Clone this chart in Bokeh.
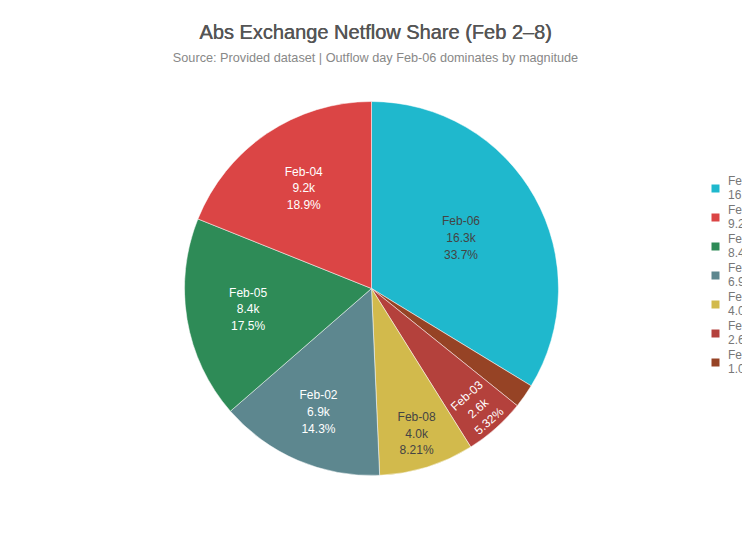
import math
from bokeh.plotting import figure
from bokeh.models import ColumnDataSource, Range1d, Label, Legend, LegendItem
from bokeh.core.properties import value
from bokeh.embed import file_html
from bokeh.resources import INLINE

# ---- data (clockwise from 12 o'clock) ----
days = ["Feb-06", "Feb-07", "Feb-03", "Feb-08", "Feb-02", "Feb-05", "Feb-04"]
abs_netflow = [16300, 998, 2572, 3970, 6915, 8440, 9155]
colors = ["#1FB8CD", "#964325", "#B4413C", "#D2BA4C", "#5D878F", "#2E8B57", "#DB4545"]
legend_order = ["Feb-06", "Feb-04", "Feb-05", "Feb-02", "Feb-08", "Feb-03", "Feb-07"]

title_text = "Abs Exchange Netflow Share (Feb 2\u20138)"
subtitle_text = "Source: Provided dataset | Outflow day Feb-06 dominates by magnitude"

W, H = 742, 520
CX, CY, R = 371, 232, 187
FONT = "Liberation Sans"

total = sum(abs_netflow)
shares = [v / total for v in abs_netflow]
starts, ends, mids = [], [], []
cum = 0.0
for s in shares:
    a0 = math.pi / 2 - 2 * math.pi * cum
    cum += s
    a1 = math.pi / 2 - 2 * math.pi * cum
    starts.append(a0)
    ends.append(a1)
    mids.append((a0 + a1) / 2)

def lum(h):
    r, g, b = int(h[1:3], 16), int(h[3:5], 16), int(h[5:7], 16)
    return 0.299 * r + 0.587 * g + 0.114 * b

lx, ly, ltxt, lcol, lang = [], [], [], [], []
for d, v, s, m, c in zip(days, abs_netflow, shares, mids, colors):
    if s < 0.03:
        continue
    half = math.pi * s
    centroid = 2 * math.sin(half) / (3 * half)
    rr = R * max(centroid, 0.94 - 1.55 * s)
    lx.append(CX + rr * math.cos(m))
    ly.append(CY + rr * math.sin(m))
    ltxt.append(f"{d}\n{v/1000:.1f}k\n{100*s:.3g}%")
    lcol.append("#444444" if lum(c) > 130 else "#ffffff")
    if s < 0.06:
        t = m + math.pi / 2
        while t > math.pi / 2:
            t -= math.pi
        while t <= -math.pi / 2:
            t += math.pi
        lang.append(t)
    else:
        lang.append(0.0)

src = ColumnDataSource(dict(day=days, val=abs_netflow, start=starts, end=ends,
                            color=colors, x=[CX] * len(days), y=[CY] * len(days),
                            nx=[float("nan")] * len(days)))
lab = ColumnDataSource(dict(x=lx, y=ly, text=ltxt, color=lcol, angle=lang))

p = figure(width=W, height=H, output_backend="svg", toolbar_location=None,
           x_range=Range1d(0, W), y_range=Range1d(0, H), min_border=0)
p.axis.visible = False
p.grid.visible = False
p.outline_line_color = None
p.background_fill_color = "white"

p.wedge(x="x", y="y", radius=R, start_angle="start", end_angle="end",
        direction="clock", fill_color="color", line_color="white", line_width=0.5,
        source=src)

p.text(x="x", y="y", text="text", angle="angle", source=lab, text_color="color",
       text_align="center", text_baseline="middle", text_font=value(FONT),
       text_font_size="12px", text_line_height=1.2)

leg_r = p.rect(x="nx", y="nx", width=10, height=10, fill_color="color",
               line_color=None, source=src)
items = []
for d in legend_order:
    i = days.index(d)
    items.append(LegendItem(label=f"{d}\n{abs_netflow[i]/1000:.1f}k",
                            renderers=[leg_r], index=i))
legend = Legend(items=items, location=(710, 144), padding=0, margin=0,
                spacing=1, glyph_width=10, glyph_height=10, label_standoff=8,
                label_text_font=FONT, label_text_font_size="12px",
                label_text_color="#777777", background_fill_alpha=0,
                border_line_color=None, label_height=28, label_text_line_height=1.2)
p.add_layout(legend, "center")

for dx in (0.0, 0.45):
    p.add_layout(Label(x=375 + dx, y=489, text=title_text, text_align="center",
                       text_baseline="middle", text_font=FONT, text_font_size="20px",
                       text_color="#555555"))
p.add_layout(Label(x=375, y=463, text=subtitle_text, text_align="center",
                   text_baseline="middle", text_font=FONT, text_font_size="12.7px",
                   text_color="#888888"))

open("out.html", "w").write(file_html(p, INLINE))
